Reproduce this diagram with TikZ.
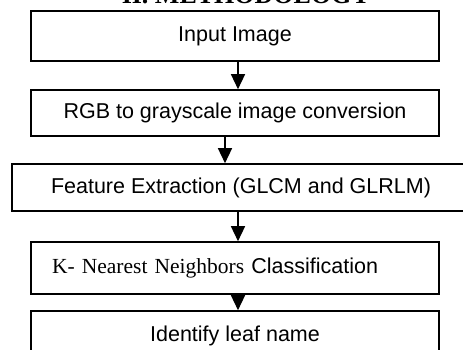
\documentclass[tikz,border=0pt]{standalone}
\usepackage{fontspec}
\setmainfont{Liberation Sans}
\newfontfamily\tnr{Liberation Serif}
\usetikzlibrary{arrows.meta}
\begin{document}
\begin{tikzpicture}[x=1pt,y=-1pt,
  box/.style={draw, line width=1.6pt, inner sep=0pt, font=\fontsize{21.5}{24}\selectfont},
  arr/.style={line width=1.4pt, -{Triangle[length=15pt,width=14pt]}}]
\useasboundingbox (0,0) rectangle (463,349);
\clip (0,0) rectangle (463,349);
\node[font=\tnr\bfseries\fontsize{26}{28}\selectfont, anchor=base, inner sep=0pt] (title) at (246,3.5) {II. METHODOLOGY};
\node[box, minimum width=408pt, minimum height=50pt] (b1) at (235,36) {Input Image};
\node[box, minimum width=408pt, minimum height=46pt] (b2) at (235,113) {RGB to grayscale image conversion};
\node[box, minimum width=458pt, minimum height=47pt] (b3) at (241,187.5) {Feature Extraction (GLCM and GLRLM)};
\node[box, minimum height=52pt, text width=366pt, inner xsep=21pt, align=left] (b4) at (235,268) {{\tnr K- Nearest Neighbors} Classification};
\node[box, minimum width=408pt, minimum height=49pt] (b5) at (235,335.5) {Identify leaf name};
\draw[arr] ([xshift=3pt]b1.south) -- ([xshift=3pt]b2.north);
\draw[arr] ([xshift=-10pt]b2.south) -- ([xshift=-10pt]b2.south |- b3.north);
\draw[arr] ([xshift=3pt]b4.north |- b3.south) -- ([xshift=3pt]b4.north);
\draw[arr] ([xshift=3pt]b4.south) -- ([xshift=3pt]b5.north);
\end{tikzpicture}
\end{document}
